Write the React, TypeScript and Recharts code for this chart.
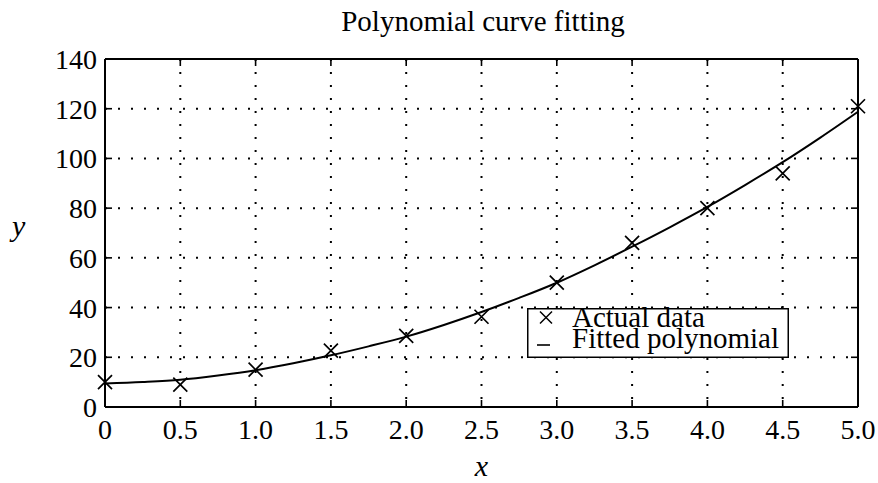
import React from 'react';
import {
  ComposedChart,
  Line,
  Scatter,
  XAxis,
  YAxis,
  CartesianGrid,
  Legend,
} from 'recharts';

const xTicks = [0, 0.5, 1, 1.5, 2, 2.5, 3, 3.5, 4, 4.5, 5];
const xTickLabels = ['0', '0.5', '1.0', '1.5', '2.0', '2.5', '3.0', '3.5', '4.0', '4.5', '5.0'];
const yTicks = [0, 20, 40, 60, 80, 100, 120, 140];
const yTickLabels = ['0', '20', '40', '60', '80', '100', '120', '140'];

const actualX = [0, 0.5, 1, 1.5, 2, 2.5, 3, 3.5, 4, 4.5, 5];
const actualY = [10, 9, 15, 22.7, 28.6, 36.3, 50, 66, 80, 94, 121];

const fittedX = [0, 0.25, 0.5, 0.75, 1, 1.25, 1.5, 1.75, 2, 2.25, 2.5, 2.75, 3, 3.25, 3.5, 3.75, 4, 4.25, 4.5, 4.75, 5];
const fittedY = [9.5, 10.1, 11, 12.7, 14.8, 17.6, 20.8, 24.4, 28.3, 33, 38.2, 43.9, 50, 57, 64.5, 72.3, 80.5, 89.3, 98.5, 108.4, 118.8];

const titleText = 'Polynomial curve fitting';
const xLabelText = 'x';
const yLabelText = 'y';
const legendLabels = ['Actual data', 'Fitted polynomial'];

const actualData = actualX.map((x, i) => ({ x, y: actualY[i] }));
const fittedData = fittedX.map((x, i) => ({ x, y: fittedY[i] }));

const FONT = "'Liberation Serif', 'Times New Roman', serif";
const TICK_FS = 28;

const XMark = (props: any) => {
  const { cx, cy } = props;
  if (cx == null || cy == null) return null;
  const r = 7;
  return (
    <path
      d={`M${cx - r},${cy - r}L${cx + r},${cy + r}M${cx - r},${cy + r}L${cx + r},${cy - r}`}
      stroke="#000"
      strokeWidth={1.7}
      fill="none"
    />
  );
};

const BottomTick = (props: any) => {
  const { x, y, index } = props;
  return (
    <g>
      <line x1={x} y1={y} x2={x} y2={y - 7} stroke="#000" strokeWidth={1.6} />
      <text
        x={x}
        y={y + 32}
        textAnchor="middle"
        fontFamily={FONT}
        fontSize={TICK_FS}
        fill="#000"
      >
        {xTickLabels[index]}
      </text>
    </g>
  );
};

const LeftTick = (props: any) => {
  const { x, y, index } = props;
  return (
    <g>
      <line x1={x} y1={y} x2={x + 7} y2={y} stroke="#000" strokeWidth={1.6} />
      <text
        x={x - 8}
        y={y + 10}
        textAnchor="end"
        fontFamily={FONT}
        fontSize={TICK_FS}
        fill="#000"
      >
        {yTickLabels[index]}
      </text>
    </g>
  );
};

const TopTick = (props: any) => {
  const { x, y } = props;
  return <line x1={x} y1={y} x2={x} y2={y + 7} stroke="#000" strokeWidth={1.6} />;
};

const RightTick = (props: any) => {
  const { x, y } = props;
  return <line x1={x} y1={y} x2={x - 7} y2={y} stroke="#000" strokeWidth={1.6} />;
};

const LegendBox = () => (
  <svg width={262} height={50} style={{ display: 'block', overflow: 'visible' }}>
    <rect x={0.75} y={0.75} width={260.5} height={48.5} fill="#fff" stroke="#000" strokeWidth={1.5} />
    <path d="M13,3.5L25,15.5M13,15.5L25,3.5" stroke="#000" strokeWidth={1.5} fill="none" />
    <line x1={10} y1={37} x2={23} y2={37} stroke="#000" strokeWidth={1.6} />
    <text x={45} y={19} fontFamily={FONT} fontSize={29} fill="#000">
      {legendLabels[0]}
    </text>
    <text x={45} y={40} fontFamily={FONT} fontSize={29} fill="#000">
      {legendLabels[1]}
    </text>
  </svg>
);

export default function App() {
  return (
    <div style={{ position: 'absolute', left: 0, top: 0, width: 878, height: 483, background: '#fff' }}>
      <div
        style={{
          position: 'absolute',
          left: 0,
          top: 7,
          width: 966,
          textAlign: 'center',
          fontFamily: FONT,
          fontSize: 29,
          lineHeight: '29px',
          color: '#000',
          zIndex: 2,
        }}
      >
        {titleText}
      </div>
      <ComposedChart
        width={878}
        height={483}
        margin={{ top: 58, right: 19, bottom: 0, left: 0 }}
      >
        <CartesianGrid
          xAxisId="bottom"
          yAxisId="left"
          stroke="#000"
          strokeWidth={2}
          strokeDasharray="2 11"
          horizontalValues={yTicks}
          verticalValues={xTicks}
        />
        <XAxis
          xAxisId="bottom"
          dataKey="x"
          type="number"
          domain={[0, 5]}
          ticks={xTicks}
          interval={0}
          height={76}
          tickSize={0}
          tickMargin={0}
          tick={<BottomTick />}
          axisLine={{ stroke: '#000', strokeWidth: 2 }}
          tickLine={false}
          label={{
            value: xLabelText,
            position: 'insideBottom',
            offset: 7,
            style: { fontStyle: 'italic', fontSize: 30, fontFamily: FONT, fill: '#000' },
          }}
        />
        <XAxis
          xAxisId="top"
          orientation="top"
          dataKey="x"
          type="number"
          domain={[0, 5]}
          ticks={xTicks}
          interval={0}
          height={1}
          tickSize={0}
          tickMargin={0}
          tick={<TopTick />}
          axisLine={{ stroke: '#000', strokeWidth: 2 }}
          tickLine={false}
        />
        <YAxis
          yAxisId="left"
          type="number"
          domain={[0, 140]}
          ticks={yTicks}
          interval={0}
          width={105}
          tickSize={0}
          tickMargin={0}
          tick={<LeftTick />}
          axisLine={{ stroke: '#000', strokeWidth: 2 }}
          tickLine={false}
          label={{
            value: yLabelText,
            position: 'insideLeft',
            offset: 12,
            dy: -8,
            style: { fontStyle: 'italic', fontSize: 30, fontFamily: FONT, fill: '#000' },
          }}
        />
        <YAxis
          yAxisId="right"
          orientation="right"
          type="number"
          domain={[0, 140]}
          ticks={yTicks}
          interval={0}
          width={1}
          tickSize={0}
          tickMargin={0}
          tick={<RightTick />}
          axisLine={{ stroke: '#000', strokeWidth: 2 }}
          tickLine={false}
        />
        <Line
          xAxisId="top"
          yAxisId="right"
          data={actualData}
          dataKey="y"
          stroke="none"
          dot={false}
          activeDot={false}
          legendType="none"
          isAnimationActive={false}
        />
        <Line
          xAxisId="bottom"
          yAxisId="left"
          data={fittedData}
          dataKey="y"
          type="monotone"
          stroke="#000"
          strokeWidth={2}
          dot={false}
          activeDot={false}
          isAnimationActive={false}
        />
        <Scatter
          xAxisId="bottom"
          yAxisId="left"
          data={actualData}
          dataKey="y"
          shape={<XMark />}
          isAnimationActive={false}
        />
        <Legend
          layout="horizontal"
          verticalAlign="middle"
          align="center"
          content={() => <LegendBox />}
          wrapperStyle={{ position: 'absolute', left: 527, top: 308, width: 262, height: 50 }}
        />
      </ComposedChart>
    </div>
  );
}
